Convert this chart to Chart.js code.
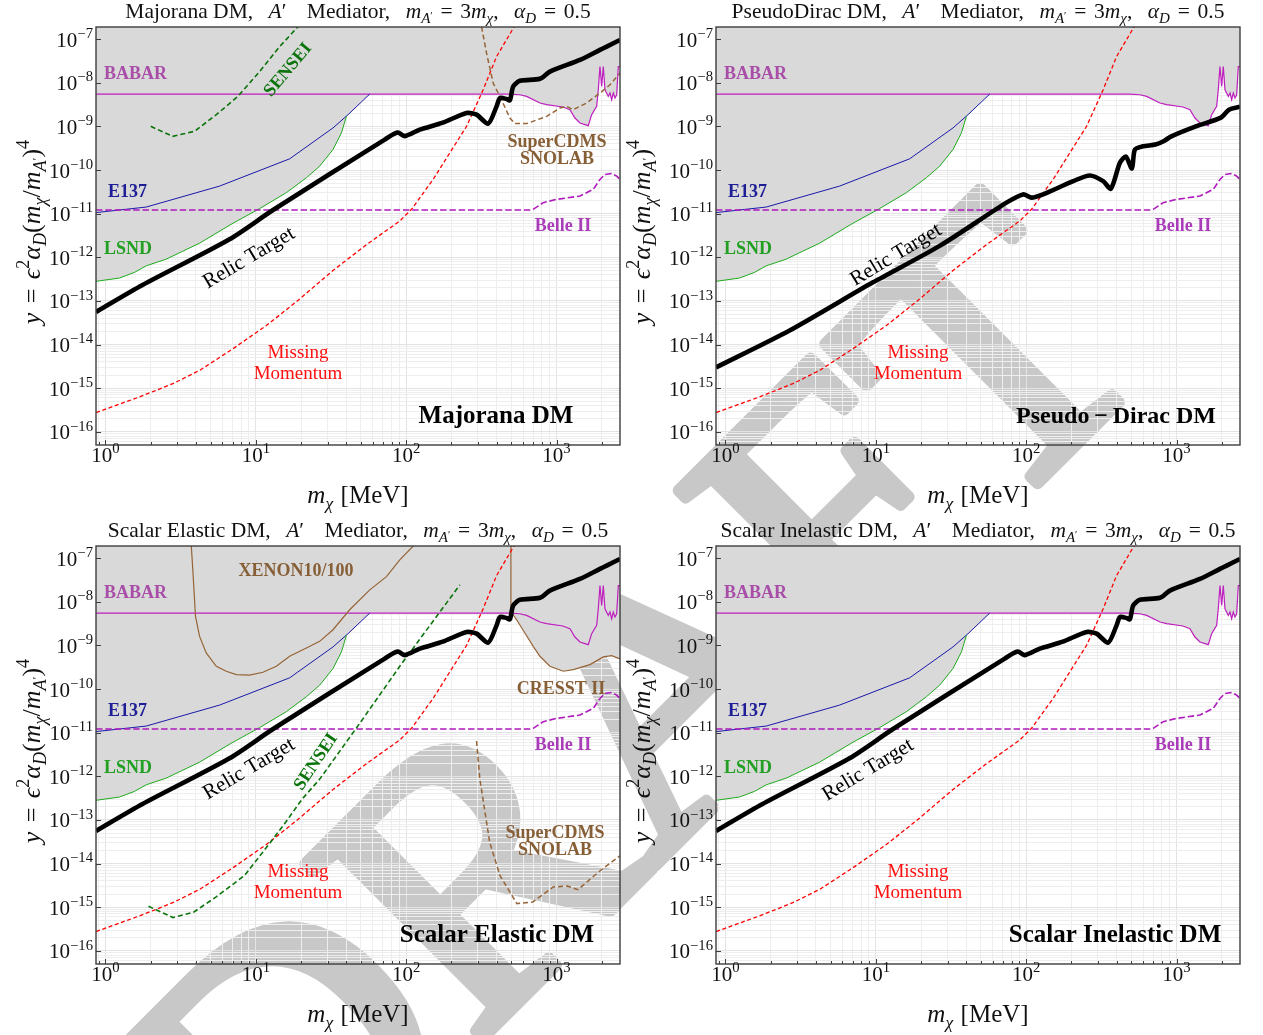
<!DOCTYPE html>
<html>
<head>
<meta charset="utf-8">
<title>Relic targets for light dark matter with a dark photon mediator</title>
<script src="https://cdn.jsdelivr.net/npm/chart.js@4.4.1/dist/chart.umd.min.js"></script>
<style>
  html, body { margin: 0; padding: 0; background: #fff; }
  #page { position: relative; width: 1263px; height: 1035px; overflow: hidden; background: #fff; }
  #page canvas { position: absolute; }
</style>
</head>
<body>
<div id="page">
  <canvas id="wm" width="1263" height="1035" style="left:0;top:0"></canvas>
  <canvas id="p0" width="640" height="519" style="left:0;top:0"></canvas>
  <canvas id="p1" width="640" height="519" style="left:620px;top:0"></canvas>
  <canvas id="p2" width="640" height="519" style="left:0;top:519px"></canvas>
  <canvas id="p3" width="640" height="519" style="left:620px;top:519px"></canvas>
</div>
<script>
// ---------------- axis ranges and tick decades ----------------
const X_MIN = 0.865, X_MAX = 2643;       // m_chi [MeV]
const Y_MIN = 5.43e-17, Y_MAX = 1.9e-7;  // y = eps^2 alpha_D (m_chi/m_A')^4
const X_DECADES = [0, 1, 2, 3];
const Y_DECADES = [-16, -15, -14, -13, -12, -11, -10, -9, -8, -7];

// ---------------- thermal relic targets ----------------
// Majorana, scalar elastic and scalar inelastic (same curve)
const relicMass = [0.865, 1.763, 6.69, 12.94, 72.0, 87.9, 97.9, 123.2, 175.3, 252.1, 293.8, 351.0, 399.2, 420.1, 465.4, 489.6, 514.9, 570.6, 775.3, 903.6, 1431, 1945, 2156, 2643];
const relicY    = [5.61e-14, 2.32e-13, 2.60e-12, 1.196e-11, 4.99e-10, 7.22e-10, 6.0e-10, 8.45e-10, 1.22e-9, 2.03e-9, 1.86e-9, 1.16e-9, 2.88e-9, 4.47e-9, 4.25e-9, 3.99e-9, 8.23e-9, 1.11e-8, 1.234e-8, 1.81e-8, 3.35e-8, 5.67e-8, 6.74e-8, 9.59e-8];
// pseudo-Dirac
const relicPDMass = [0.865, 2.67, 9.57, 26.6, 73.9, 95.4, 108.5, 129.6, 205.3, 265.1, 325.1, 365.9, 420.1, 460.4, 504.9, 528.5, 597.5, 723.7, 819.4, 923.5, 1346, 1975, 2233, 2643];
const relicPDY    = [3.0e-15, 2.10e-14, 2.67e-13, 1.83e-12, 1.79e-11, 2.77e-11, 2.33e-11, 2.77e-11, 5.58e-11, 7.53e-11, 5.58e-11, 3.74e-11, 1.47e-10, 2.04e-10, 1.09e-10, 2.95e-10, 3.51e-10, 3.84e-10, 4.57e-10, 5.94e-10, 1.005e-9, 1.59e-9, 2.42e-9, 2.83e-9];

// ---------------- existing limits ----------------
const babarMass = [0.865, 489.6, 570.6, 632.4, 775.3, 859.3, 1103, 1228, 1326, 1431, 1546, 1626, 1713, 1849, 1895, 1945, 1996, 2046, 2100, 2209, 2267, 2327, 2385, 2448, 2512, 2575, 2643];
const babarY    = [5.52e-9, 5.52e-9, 5.32e-9, 4.87e-9, 3.44e-9, 3.15e-9, 2.79e-9, 2.42e-9, 1.56e-9, 1.20e-9, 1.10e-9, 1.04e-9, 1.86e-9, 2.88e-9, 6.92e-9, 2.36e-8, 8.23e-9, 2.36e-8, 6.92e-9, 4.87e-9, 5.82e-9, 4.09e-9, 5.82e-9, 4.47e-9, 5.32e-9, 2.36e-8, 2.36e-8];
const e137Mass = [0.865, 1.866, 5.74, 16.79, 32.6, 41.04, 57.25];
const e137Y    = [1.06e-11, 1.42e-11, 4.29e-11, 1.81e-10, 9.24e-10, 1.86e-9, 5.52e-9];
const lsndMass = [0.865, 1.239, 1.56, 1.866, 2.536, 4.226, 7.04, 10.6, 15.96, 21.69, 26.6, 32.6, 37.1, 40.05];
const lsndY    = [2.82e-13, 3.35e-13, 4.52e-13, 6.39e-13, 9.10e-13, 2.11e-12, 6.04e-12, 1.31e-11, 3.03e-11, 6.67e-11, 1.23e-10, 2.95e-10, 7.11e-10, 1.70e-9];
const xenonMass = [3.72, 3.81, 3.97, 4.226, 4.68, 5.46, 6.36, 7.42, 9.09, 11.15, 13.69, 16.79, 21.69, 26.6, 32.6, 42.1, 57.25, 73.9, 90.7, 113];
const xenonY    = [2e-7, 5.38e-8, 4.62e-9, 1.61e-9, 6.74e-10, 3.33e-10, 2.56e-10, 2.15e-10, 2.08e-10, 2.43e-10, 3.33e-10, 5.64e-10, 8.77e-10, 1.24e-9, 2.29e-9, 6.57e-9, 1.88e-8, 3.78e-8, 9.1e-8, 2e-7];
const cresstMass = [497.2, 497.2, 542.5, 616.0, 699.6, 775.3, 903.6, 1108, 1292, 1669, 2046, 2327, 2643];
const cresstY    = [2e-7, 6.0e-9, 3.88e-9, 1.93e-9, 9.54e-10, 5.64e-10, 3.33e-10, 2.56e-10, 2.80e-10, 3.64e-10, 5.46e-10, 5.85e-10, 4.92e-10];

// ---------------- projections ----------------
const belleMass = [0.865, 665.2, 699.6, 815.6, 1002, 1431, 1755, 1945, 2100, 2327, 2512, 2643];
const belleY    = [1.215e-11, 1.215e-11, 1.26e-11, 1.79e-11, 2.13e-11, 2.54e-11, 3.61e-11, 6.10e-11, 7.93e-11, 8.36e-11, 7.26e-11, 6.10e-11];
const mmMass = [0.867, 1.684, 2.806, 4.226, 7.04, 11.75, 19.57, 32.6, 55.0, 90.7, 108.5, 151.1, 195.1, 252.1, 325.1, 399.2, 514.9, 570.6];
const mmY    = [2.77e-16, 6.33e-16, 1.27e-15, 2.56e-15, 8.02e-15, 2.73e-14, 1.11e-13, 5.0e-13, 2.0e-12, 6.81e-12, 1.26e-11, 6.10e-11, 2.48e-10, 1.005e-9, 6.92e-9, 3.99e-8, 1.77e-7, 3.2e-7];
const senseiMajMass = [2.0, 2.8, 3.91, 5.46, 7.6, 10.6, 14.4, 19.07];
const senseiMajY    = [1.005e-9, 5.94e-10, 7.73e-10, 1.86e-9, 4.87e-9, 1.81e-8, 6.74e-8, 1.93e-7];
const senseiScMass = [1.933, 2.815, 3.853, 5.48, 8.42, 12.28, 15.79, 20.34, 26.6, 49.1, 90.7, 227.5];
const senseiScY    = [1.05e-15, 5.8e-16, 7.7e-16, 1.75e-15, 5.35e-15, 2.83e-14, 8.86e-14, 3.02e-13, 8.63e-13, 1.64e-11, 3.33e-10, 2.44e-8];
const cdmsMajMass = [317.1, 342.4, 378.9, 420.1, 489.6, 528.5, 632.4, 859.3, 1053, 1167, 1292, 1586, 1945, 2267, 2643];
const cdmsMajY    = [1.93e-7, 4.77e-8, 9.84e-9, 4.87e-9, 1.56e-9, 1.16e-9, 1.16e-9, 1.70e-9, 2.65e-9, 2.88e-9, 2.42e-9, 3.44e-9, 5.82e-9, 9.0e-9, 1.67e-8];
const cdmsScMass = [293.8, 309, 359.2, 420.1, 545.0, 694.2, 950.6, 1183, 1388, 1898, 2643];
const cdmsScY    = [6.46e-12, 8.63e-13, 3.10e-14, 5.35e-15, 1.21e-15, 1.32e-15, 2.91e-15, 3.06e-15, 2.52e-15, 6.39e-15, 1.51e-14];

// ---------------- style ----------------
const SERIF = '"Liberation Serif", "DejaVu Serif", serif';
const FILL = '#d9d9d9';
const AXIS = '#3d3d3d';
const GRID_MAJOR = '#e3e3e3', GRID_MINOR = '#eeeeee';
const C = {
  babar: 'rgb(190,30,190)', babarTxt: 'rgb(168,78,168)',
  e137: 'rgb(25,25,170)', e137Txt: 'rgb(30,30,150)',
  lsnd: 'rgb(30,170,30)', lsndTxt: 'rgb(35,160,35)',
  belle: 'rgb(175,25,190)', belleTxt: 'rgb(170,60,185)',
  mm: 'rgb(255,0,0)', sensei: 'rgb(10,115,10)',
  brown: 'rgb(150,100,55)', brownTxt: 'rgb(135,95,55)'
};

// ---------------- helpers ----------------
function pts(mass, vals) { return mass.map((m, i) => ({ x: m, y: vals[i] })); }
function curve(mass, vals, color, width, dash, order, extra) {
  return Object.assign({
    data: pts(mass, vals), borderColor: color, borderWidth: width, borderDash: dash || [],
    pointRadius: 0, fill: false, tension: 0, order: order
  }, extra || {});
}
function region(mass, vals) {
  return { data: pts(mass, vals), borderColor: 'rgba(0,0,0,0)', borderWidth: 0, backgroundColor: FILL,
           fill: 'end', pointRadius: 0, tension: 0, order: 100 };
}
function logTicks(min, max) {
  const out = [];
  for (let e = Math.floor(Math.log10(min)); e <= Math.ceil(Math.log10(max)); e++) {
    for (let k = 1; k <= 9; k++) {
      const v = k * Math.pow(10, e);
      if (v >= min && v <= max) out.push({ value: v, major: k === 1 });
    }
  }
  return out;
}

// rich text: parts {t, it, bf, sub, sup, s, dy} or a blank advance {w} in em
function partFont(p, size) {
  const s = size * (p.s || ((p.sub || p.sup) ? 0.7 : 1));
  return (p.it ? 'italic ' : '') + (p.bf ? 'bold ' : '') + s.toFixed(1) + 'px ' + SERIF;
}
function partDy(p, size) {
  if (p.dy !== undefined) return p.dy * size;
  if (p.sub) return 0.22 * size;
  if (p.sup) return -0.42 * size;
  return 0;
}
function partW(ctx, p, size) {
  if (p.w !== undefined) return p.w * size;
  ctx.font = partFont(p, size);
  return ctx.measureText(p.t).width;
}
function drawRich(ctx, parts, x, y, size, align) {
  let w = 0;
  for (const p of parts) w += partW(ctx, p, size);
  let cx = align === 'center' ? x - w / 2 : (align === 'right' ? x - w : x);
  ctx.textAlign = 'left';
  ctx.textBaseline = 'alphabetic';
  for (const p of parts) {
    const pw = partW(ctx, p, size);
    if (p.t !== undefined) {
      ctx.font = partFont(p, size);
      ctx.fillText(p.t, cx, y + partDy(p, size));
    }
    cx += pw;
  }
}
const EQ = [{ w: 0.36 }, { t: '=' }, { w: 0.36 }];
function titleParts(name) {
  return [
    { t: name + ',' }, { w: 0.72 }, { t: 'A', it: 1 }, { t: '′' }, { w: 0.95 }, { t: 'Mediator,' }, { w: 0.72 },
    { t: 'm', it: 1 }, { t: 'A', it: 1, sub: 1 }, { t: '′', s: 0.5, dy: 0.05 }
  ].concat(EQ, [
    { t: '3' }, { t: 'm', it: 1 }, { t: 'χ', it: 1, sub: 1 }, { t: ',' }, { w: 0.72 },
    { t: 'α', it: 1 }, { t: 'D', it: 1, sub: 1 }
  ], EQ, [{ t: '0.5' }]);
}
const Y_TITLE = [{ t: 'y', it: 1 }].concat(EQ, [
  { t: 'ϵ', it: 1 }, { t: '2', sup: 1 }, { t: 'α', it: 1 }, { t: 'D', it: 1, sub: 1 },
  { t: '(' }, { t: 'm', it: 1 }, { t: 'χ', it: 1, sub: 1 }, { t: '/' }, { t: 'm', it: 1 },
  { t: 'A', it: 1, sub: 1 }, { t: '′', s: 0.5, dy: 0.05 }, { t: ')' }, { t: '4', sup: 1 }
]);
const X_TITLE = [{ t: 'm', it: 1 }, { t: 'χ', it: 1, sub: 1 }, { w: 0.3 }, { t: '[MeV]' }];

function drawLabel(ctx, L) {
  ctx.save();
  ctx.translate(L.x, L.y);
  if (L.rot) ctx.rotate(L.rot * Math.PI / 180);
  ctx.font = (L.bf === false ? '' : 'bold ') + (L.size || 18) + 'px ' + SERIF;
  ctx.fillStyle = L.color || '#000';
  ctx.textAlign = L.align || 'center';
  ctx.textBaseline = 'middle';
  ctx.fillText(L.t, 0, 0);
  ctx.restore();
}

// frame, inward ticks, tick labels, titles and curve labels
const decor = {
  id: 'decor',
  afterDraw(chart, args, o) {
    const ctx = chart.ctx, a = chart.chartArea, xs = chart.scales.x, ys = chart.scales.y;
    ctx.save();
    for (const L of o.labels) drawLabel(ctx, L);

    ctx.strokeStyle = AXIS;
    ctx.lineWidth = 1;
    ctx.beginPath();
    for (const t of xs.ticks) {
      const px = Math.round(xs.getPixelForValue(t.value)) + 0.5;
      ctx.moveTo(px, a.bottom); ctx.lineTo(px, a.bottom - (t.major ? 5 : 3));
    }
    for (const t of ys.ticks) {
      if (!t.major) continue;
      const py = Math.round(ys.getPixelForValue(t.value)) + 0.5;
      ctx.moveTo(a.left, py); ctx.lineTo(a.left + 5, py);
    }
    ctx.stroke();
    ctx.lineWidth = 1.4;
    ctx.strokeRect(a.left, a.top, a.right - a.left, a.bottom - a.top);

    ctx.fillStyle = '#111';
    for (const e of X_DECADES) {
      drawRich(ctx, [{ t: '10' }, { t: String(e), sup: 1 }], xs.getPixelForValue(Math.pow(10, e)), a.bottom + 17, 21, 'center');
    }
    for (const e of Y_DECADES) {
      drawRich(ctx, [{ t: '10' }, { t: '−' + Math.abs(e), sup: 1 }], a.left - 3, ys.getPixelForValue(Math.pow(10, e)) + 7.5, 21, 'right');
    }
    drawRich(ctx, titleParts(o.title), (a.left + a.right) / 2, 18, 21.5, 'center');
    drawRich(ctx, X_TITLE, (a.left + a.right) / 2, a.bottom + 58, 25, 'center');
    ctx.save();
    ctx.translate(o.yTitleX, (a.top + a.bottom) / 2 - 4);
    ctx.rotate(-Math.PI / 2);
    drawRich(ctx, Y_TITLE, 0, 0, 26, 'center');
    ctx.restore();
    ctx.restore();
  }
};

function scaleOpts(min, max, isX) {
  return {
    type: 'logarithmic', min: min, max: max,
    afterBuildTicks: s => { s.ticks = logTicks(min, max); },
    afterFit: s => { if (isX) s.height = 0; else s.width = 0; },
    ticks: { display: false },
    grid: { color: c => (c.tick && c.tick.major) ? GRID_MAJOR : GRID_MINOR, lineWidth: 1, drawTicks: false },
    border: { display: false }
  };
}

function makePanel(id, datasets, decorOpts) {
  return new Chart(document.getElementById(id), {
    type: 'line',
    data: { datasets: datasets },
    options: {
      responsive: false, animation: false, devicePixelRatio: 1, events: [],
      layout: { padding: { left: 96, top: 27, right: 20, bottom: 74 } },
      scales: { x: scaleOpts(X_MIN, X_MAX, true), y: scaleOpts(Y_MIN, Y_MAX, false) },
      plugins: { legend: { display: false }, tooltip: { enabled: false }, decor: decorOpts }
    },
    plugins: [decor]
  });
}

// shared limit curves for every panel
function commonSets() {
  return [
    region(babarMass, babarY), region(e137Mass, e137Y), region(lsndMass, lsndY),
    curve(e137Mass, e137Y, C.e137, 1, null, 8),
    curve(lsndMass, lsndY, C.lsnd, 1, null, 7),
    curve(babarMass, babarY, C.babar, 1.2, null, 9),
    curve(belleMass, belleY, C.belle, 1.6, [6.5, 2.8], 5),
    curve(mmMass, mmY, C.mm, 1.3, [4, 2.6], 4)
  ];
}
function commonLabels() {
  return [
    { t: 'BABAR', x: 104, y: 74, color: C.babarTxt, align: 'left' },
    { t: 'E137', x: 108, y: 192, color: C.e137Txt, align: 'left' },
    { t: 'LSND', x: 104, y: 249, color: C.lsndTxt, align: 'left' },
    { t: 'Belle II', x: 563, y: 226, color: C.belleTxt },
    { t: 'Missing', x: 298, y: 353, color: '#ff1010', bf: false, size: 19 },
    { t: 'Momentum', x: 298, y: 374, color: '#ff1010', bf: false, size: 19 }
  ];
}
const RELIC = { width: 4.6, tension: 0.25 };

// Majorana
makePanel('p0', commonSets().concat([
  curve(senseiMajMass, senseiMajY, C.sensei, 1.6, [5, 3], 3),
  curve(cdmsMajMass, cdmsMajY, C.brown, 1.5, [5, 3], 3),
  curve(relicMass, relicY, '#000', RELIC.width, null, 0, { tension: RELIC.tension })
]), {
  title: 'Majorana DM', yTitleX: 40,
  labels: commonLabels().concat([
    { t: 'SENSEI', x: 288, y: 70, rot: -50, color: C.sensei },
    { t: 'SuperCDMS', x: 557, y: 142, color: C.brownTxt },
    { t: 'SNOLAB', x: 557, y: 159, color: C.brownTxt },
    { t: 'Relic Target', x: 249, y: 258, rot: -30.5, color: '#000', bf: false, size: 21 },
    { t: 'Majorana DM', x: 496, y: 417, size: 25, color: '#000' }
  ])
});

// Pseudo-Dirac
makePanel('p1', commonSets().concat([
  curve(relicPDMass, relicPDY, '#000', RELIC.width, null, 0, { tension: RELIC.tension })
]), {
  title: 'PseudoDirac DM', yTitleX: 30,
  labels: commonLabels().concat([
    { t: 'Relic Target', x: 276, y: 255, rot: -31, color: '#000', bf: false, size: 21 },
    { t: 'Pseudo\u2009−\u2009Dirac DM', x: 496, y: 417, size: 24, color: '#000' }
  ])
});

// Scalar elastic
makePanel('p2', [region(cresstMass, cresstY)].concat(commonSets()).concat([
  curve(xenonMass, xenonY, C.brown, 1.2, null, 6),
  curve(cresstMass, cresstY, C.brown, 1.2, null, 6),
  curve(senseiScMass, senseiScY, C.sensei, 1.6, [5, 3], 3),
  curve(cdmsScMass, cdmsScY, C.brown, 1.5, [5, 3], 3),
  curve(relicMass, relicY, '#000', RELIC.width, null, 0, { tension: RELIC.tension })
]), {
  title: 'Scalar Elastic DM', yTitleX: 40,
  labels: commonLabels().concat([
    { t: 'XENON10/100', x: 296, y: 52, color: C.brownTxt },
    { t: 'CRESST II', x: 561, y: 170, color: C.brownTxt },
    { t: 'SENSEI', x: 316, y: 243, rot: -56, color: C.sensei },
    { t: 'SuperCDMS', x: 555, y: 314, color: C.brownTxt },
    { t: 'SNOLAB', x: 555, y: 331, color: C.brownTxt },
    { t: 'Relic Target', x: 249, y: 250, rot: -30.5, color: '#000', bf: false, size: 21 },
    { t: 'Scalar Elastic DM', x: 497, y: 417, size: 25, color: '#000' }
  ])
});

// Scalar inelastic
makePanel('p3', commonSets().concat([
  curve(relicMass, relicY, '#000', RELIC.width, null, 0, { tension: RELIC.tension })
]), {
  title: 'Scalar Inelastic DM', yTitleX: 30,
  labels: commonLabels().concat([
    { t: 'Relic Target', x: 248, y: 251, rot: -31, color: '#000', bf: false, size: 21 },
    { t: 'Scalar Inelastic DM', x: 495, y: 417, size: 25, color: '#000' }
  ])
});

// page watermark, drawn beneath the transparent panels
(function () {
  const w = document.getElementById('wm').getContext('2d');
  w.save();
  w.translate(720, 801);
  w.rotate(-Math.PI / 4);
  w.fillStyle = '#c8c8c8';
  w.strokeStyle = '#c8c8c8';
  w.lineWidth = 12;
  w.lineJoin = 'round';
  w.font = '380px ' + SERIF;
  w.textAlign = 'center';
  w.textBaseline = 'alphabetic';
  w.fillText('DRAFT', 0, 0);
  w.strokeText('DRAFT', 0, 0);
  w.restore();
})();
</script>
</body>
</html>
